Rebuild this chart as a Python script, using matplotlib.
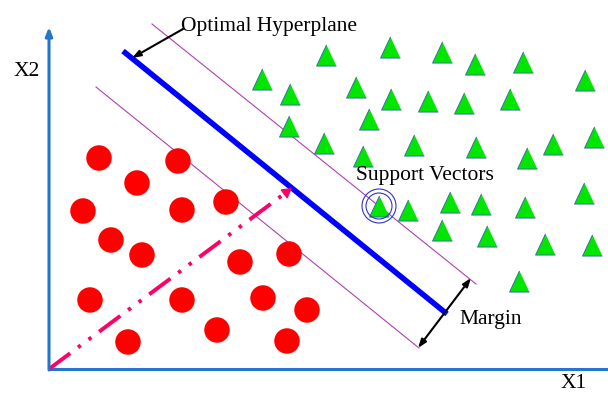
import matplotlib
matplotlib.use("Agg")
import matplotlib.pyplot as plt

plt.rcParams['lines.scale_dashes'] = False

# Data (pixel-space coordinates of the schematic, y downward)
circle_x = [99, 178, 137, 83, 182, 226, 111, 142, 240, 289, 90, 182, 263, 307, 128, 217, 287]
circle_y = [158, 161, 183, 211, 210, 202, 240, 255, 262, 254, 300, 300, 298, 310, 342, 330, 341]

tri_x = [262, 290, 289, 326, 390, 442, 475, 523, 585, 356, 391, 428, 464, 510, 369, 324, 363,
         414, 476, 527, 553, 594, 379, 408, 450, 481, 525, 584, 442, 487, 545, 592, 519]
tri_y = [79, 94, 126, 55, 47, 52, 64, 62, 80, 87, 99, 101, 103, 99, 119, 143, 156,
         145, 147, 158, 144, 137, 206, 210, 202, 204, 207, 193, 230, 236, 244, 245, 281]

support_x = [379]
support_y = [206]

hyper_x = [123, 447]
hyper_y = [51, 314]
upper_x = [152, 476]
upper_y = [24, 284]
lower_x = [96, 419]
lower_y = [87, 348]

origin = (49, 369)
w_tip = (292, 188)

fig = plt.figure(figsize=(6.08, 3.94), dpi=100)
ax = fig.add_axes([0, 0, 1, 1])
ax.set_xlim(0, 608)
ax.set_ylim(394, 0)
ax.axis('off')

axis_col = '#2277CC'
# axes
ax.plot([origin[0], 608], [origin[1], origin[1]], color=axis_col, lw=2.2, solid_capstyle='butt')
ax.annotate('', xy=(origin[0], 27), xytext=(origin[0], origin[1] + 1),
            arrowprops=dict(arrowstyle='-|>,head_length=0.5,head_width=0.2', color=axis_col, lw=2.2,
                            shrinkA=0, shrinkB=0))

# margins
ax.plot(upper_x, upper_y, color='#B040B0', lw=0.8)
ax.plot(lower_x, lower_y, color='#B040B0', lw=0.8)

# hyperplane
ax.plot(hyper_x, hyper_y, color='#0000FF', lw=4.0, solid_capstyle='butt')

# weight vector
wl, = ax.plot([origin[0], w_tip[0] - 6], [origin[1], w_tip[1] + 4.5], color='#FF0066', lw=2.8,
              dash_capstyle='butt')
wl.set_dashes([19, 7, 2.5, 7, 2.5, 7])
ax.annotate('', xy=w_tip, xytext=(w_tip[0] - 8, w_tip[1] + 6),
            arrowprops=dict(arrowstyle='-|>,head_length=0.6,head_width=0.35', color='#FF0066', lw=1,
                            shrinkA=0, shrinkB=0))

# points
ax.scatter(circle_x, circle_y, s=337, color='#FF0000', edgecolors='none', zorder=3)
ax.scatter(tri_x, tri_y, s=(15.2) ** 2, marker=[(0, 0.5), (-0.47, -0.5), (0.47, -0.5)],
           color='#00E600', edgecolors='#3A6EA5', linewidths=0.7, zorder=3)

# support vector rings
ax.scatter(support_x, support_y, s=(26 * 0.72) ** 2, facecolors='none', edgecolors='#3333CC',
           linewidths=0.8, zorder=4)
ax.scatter(support_x, support_y, s=(34 * 0.72) ** 2, facecolors='none', edgecolors='#3333CC',
           linewidths=0.8, zorder=4)

# margin arrow
ax.annotate('', xy=(418, 348), xytext=(471, 278),
            arrowprops=dict(arrowstyle='<|-|>,head_length=0.5,head_width=0.18', color='black', lw=1.5,
                            shrinkA=0, shrinkB=0))

# hyperplane label arrow
ax.annotate('', xy=(132, 58), xytext=(183, 29),
            arrowprops=dict(arrowstyle='-|>,head_length=0.5,head_width=0.18', color='black', lw=1.5,
                            shrinkA=0, shrinkB=0))

font = dict(family='Liberation Serif', fontsize=15.5, color='black')
ax.text(181, 31, 'Optimal Hyperplane', va='baseline', ha='left', **font)
ax.text(356, 180, 'Support Vectors', va='baseline', ha='left', **font)
ax.text(459, 324, 'Margin', va='baseline', ha='left', **font)
ax.text(14, 76, 'X2', va='baseline', ha='left', **font)
ax.text(561, 388, 'X1', va='baseline', ha='left', **font)

fig.savefig('out.png', dpi=100)
